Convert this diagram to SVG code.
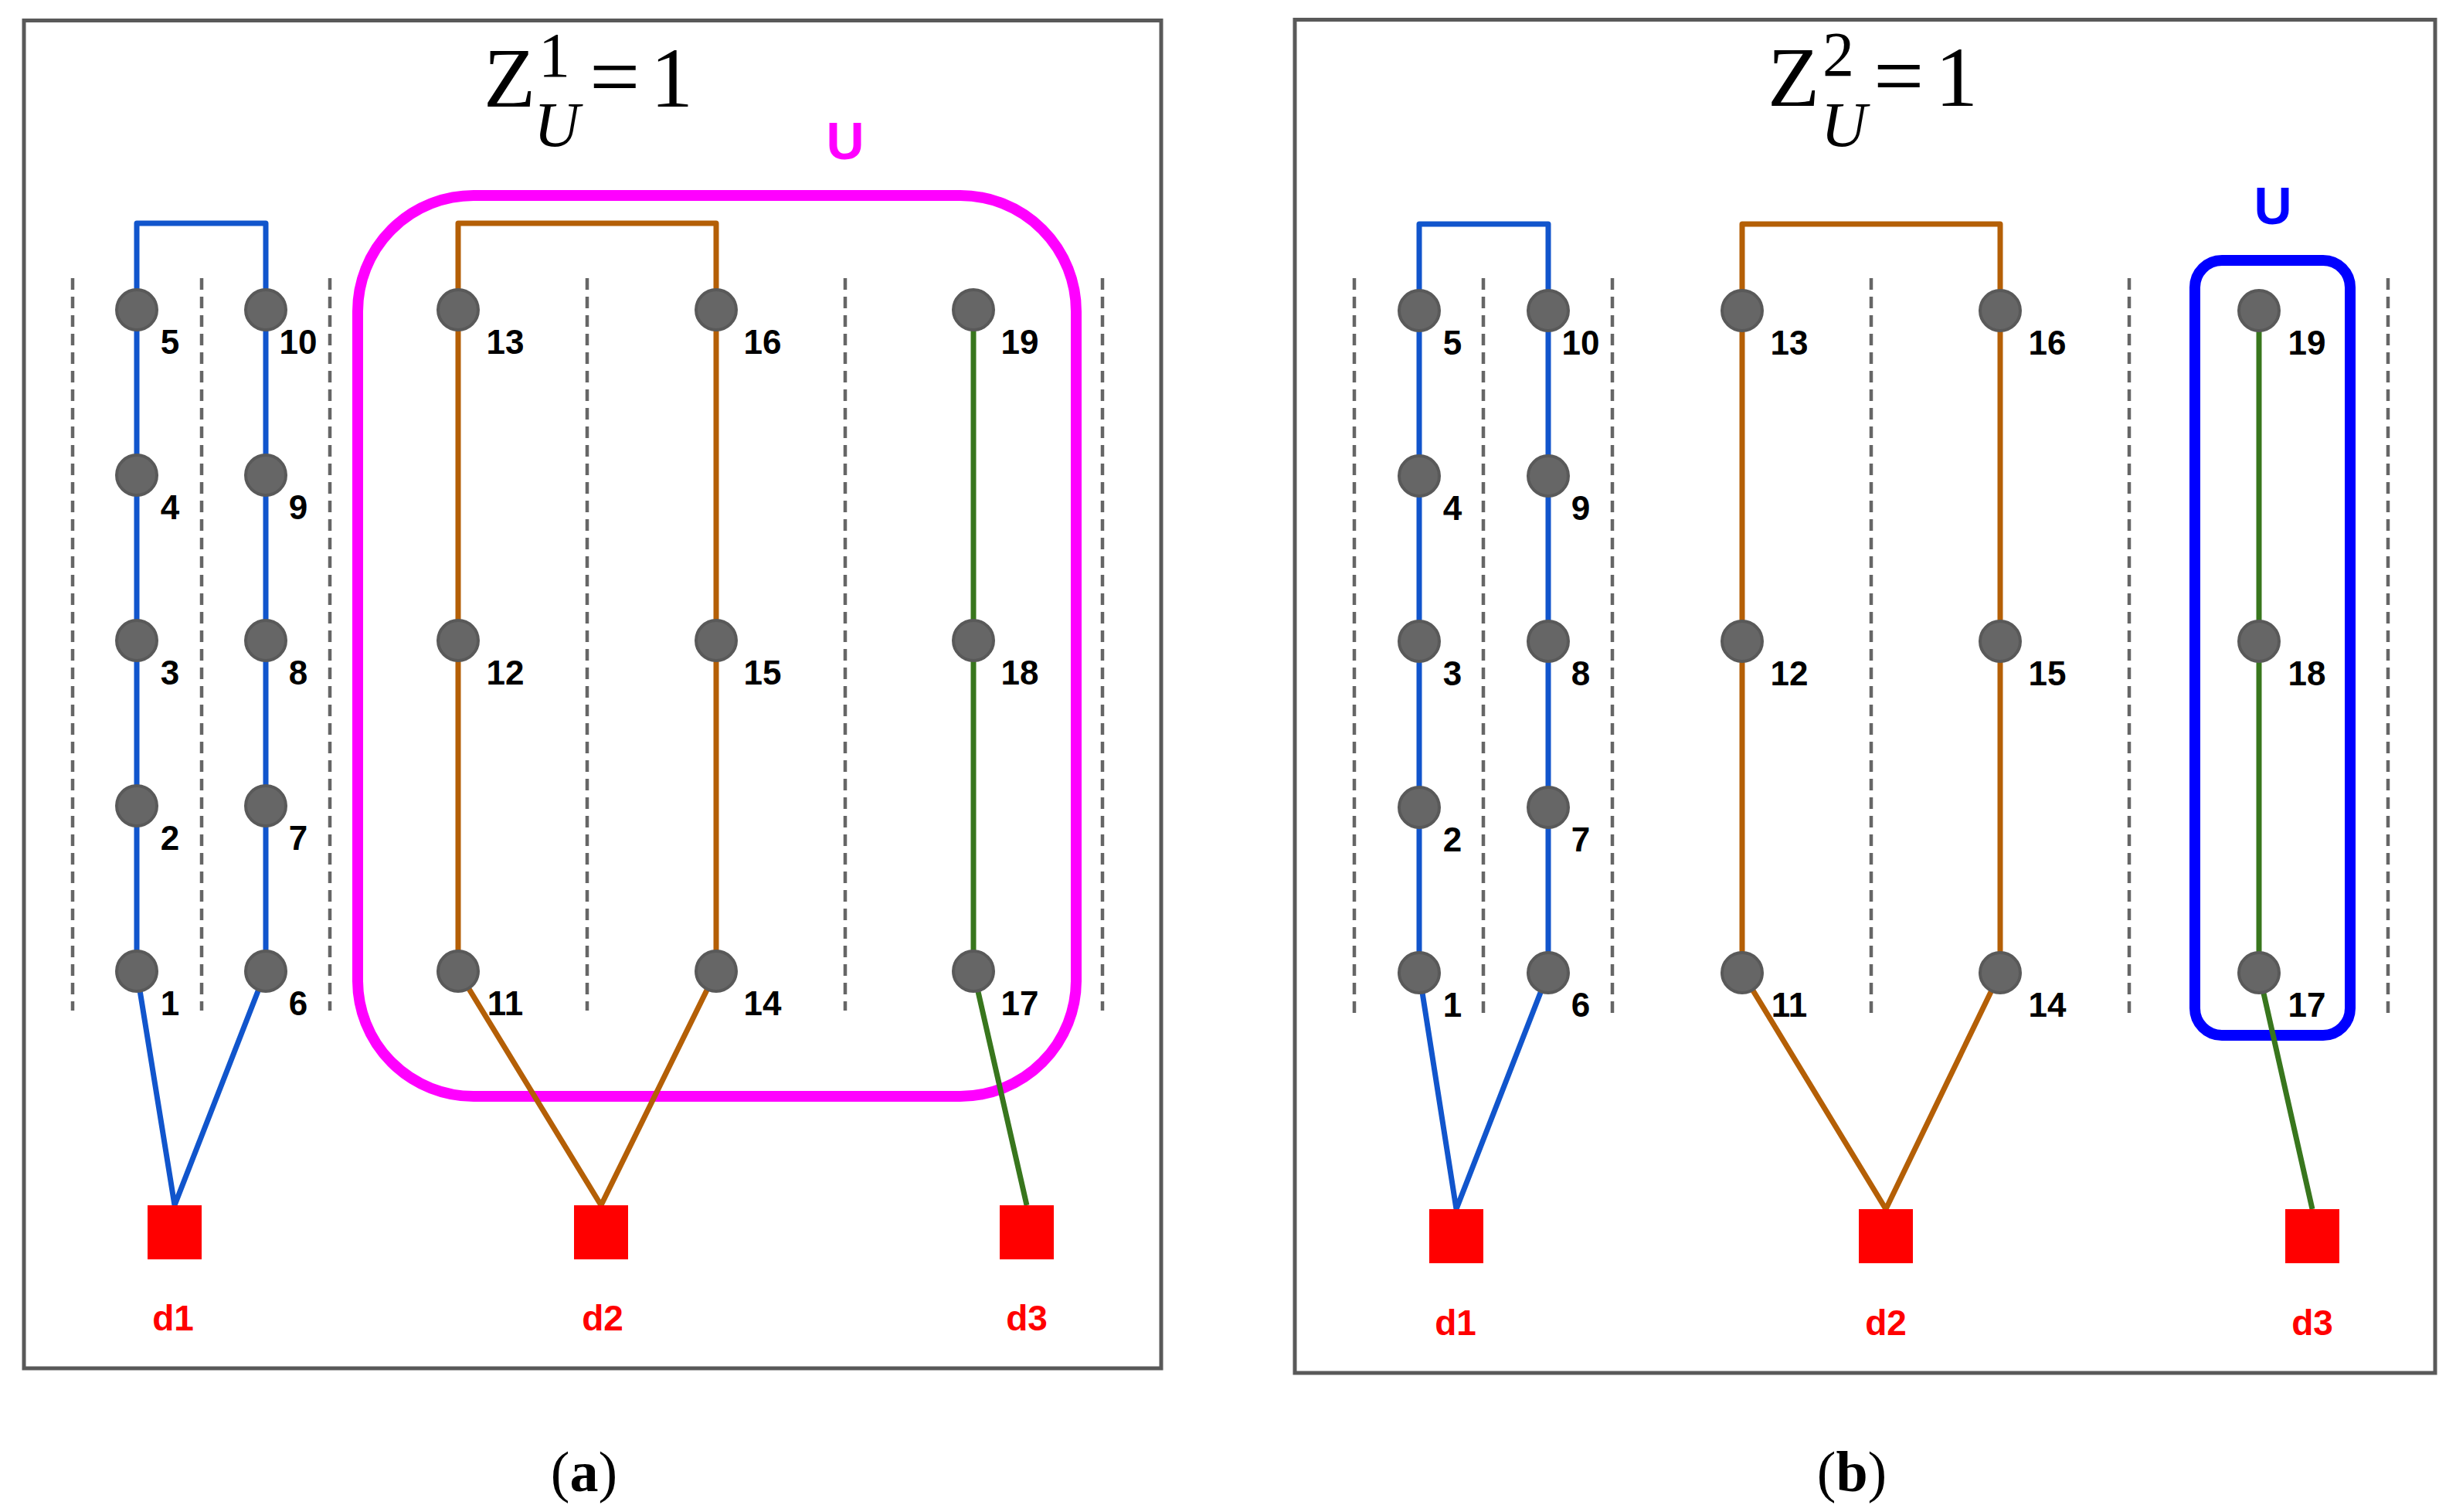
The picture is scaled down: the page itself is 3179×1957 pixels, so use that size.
<svg xmlns="http://www.w3.org/2000/svg" width="3179" height="1957" viewBox="0 0 3179 1957">
<style>
.frame{fill:none;stroke:#595959;stroke-width:5}
.grid{stroke:#666666;stroke-width:4.5;stroke-dasharray:15 9;fill:none}
.node{fill:#666666;stroke:#595959;stroke-width:4}
.lbl{font-family:"Liberation Sans",Arial,sans-serif;font-weight:bold;font-size:44px;fill:#000;text-anchor:middle}
.dl{font-family:"Liberation Sans",Arial,sans-serif;font-weight:bold;font-size:46px;fill:#ff0000;text-anchor:middle}
.dep{fill:#ff0000}
.blue{stroke:#1155cc;stroke-width:7;fill:none;stroke-linejoin:round}
.brown{stroke:#b45f06;stroke-width:7;fill:none;stroke-linejoin:round}
.green{stroke:#38761d;stroke-width:7;fill:none;stroke-linejoin:round}
.tm{font-family:"Liberation Serif","Times New Roman",serif;fill:#000;font-size:110px}
.sm{font-size:82px}
.cap{font-family:"Liberation Serif","Times New Roman",serif;font-size:74px;fill:#000;text-anchor:middle}
.ulbl{font-family:"Liberation Sans",Arial,sans-serif;font-weight:bold;font-size:68px;text-anchor:middle}
</style>
<rect width="3179" height="1957" fill="#ffffff"/>

<!-- Panel (a) -->
<g id="panel-a">
<rect class="frame" x="31" y="26.5" width="1472" height="1744.5"/>
<g id="title-a">
<text class="tm"><tspan x="626" y="138">Z</tspan><tspan class="sm" x="697" y="99">1</tspan><tspan class="sm" x="691" y="189" font-style="italic">U</tspan><tspan x="763" y="138" font-size="116">=</tspan><tspan x="842" y="138">1</tspan></text>
</g>
<g id="grid-a">
<line class="grid" x1="94" y1="360" x2="94" y2="1308"/>
<line class="grid" x1="261" y1="360" x2="261" y2="1308"/>
<line class="grid" x1="427" y1="360" x2="427" y2="1308"/>
<line class="grid" x1="760" y1="360" x2="760" y2="1308"/>
<line class="grid" x1="1094" y1="360" x2="1094" y2="1308"/>
<line class="grid" x1="1427" y1="360" x2="1427" y2="1308"/>
</g>
<g id="U-a">
<rect x="463" y="253" width="930" height="1166" rx="150" ry="150" fill="none" stroke="#ff00ff" stroke-width="14"/>
<text class="ulbl" x="1094" y="206" fill="#ff00ff">U</text>
</g>
<g id="connectors-a">
<path class="blue" d="M177,1257 V289 H344 V1257"/>
<path class="blue" d="M177,1257 L226,1560 L344,1257"/>
<path class="brown" d="M593,1257 V289 H927 V1257"/>
<path class="brown" d="M593,1257 L778,1560 L927,1257"/>
<path class="green" d="M1260,401 V1257 L1329,1560"/>
</g>
<g id="a-n1"><ellipse class="node" cx="177" cy="1257" rx="26" ry="26"/><text class="lbl" x="220" y="1314">1</text></g>
<g id="a-n2"><ellipse class="node" cx="177" cy="1043" rx="26" ry="26"/><text class="lbl" x="220" y="1100">2</text></g>
<g id="a-n3"><ellipse class="node" cx="177" cy="829" rx="26" ry="26"/><text class="lbl" x="220" y="886">3</text></g>
<g id="a-n4"><ellipse class="node" cx="177" cy="615" rx="26" ry="26"/><text class="lbl" x="220" y="672">4</text></g>
<g id="a-n5"><ellipse class="node" cx="177" cy="401" rx="26" ry="26"/><text class="lbl" x="220" y="458">5</text></g>
<g id="a-n6"><ellipse class="node" cx="344" cy="1257" rx="26" ry="26"/><text class="lbl" x="386" y="1314">6</text></g>
<g id="a-n7"><ellipse class="node" cx="344" cy="1043" rx="26" ry="26"/><text class="lbl" x="386" y="1100">7</text></g>
<g id="a-n8"><ellipse class="node" cx="344" cy="829" rx="26" ry="26"/><text class="lbl" x="386" y="886">8</text></g>
<g id="a-n9"><ellipse class="node" cx="344" cy="615" rx="26" ry="26"/><text class="lbl" x="386" y="672">9</text></g>
<g id="a-n10"><ellipse class="node" cx="344" cy="401" rx="26" ry="26"/><text class="lbl" x="386" y="458">10</text></g>
<g id="a-n11"><ellipse class="node" cx="593" cy="1257" rx="26" ry="26"/><text class="lbl" x="654" y="1314">11</text></g>
<g id="a-n12"><ellipse class="node" cx="593" cy="829" rx="26" ry="26"/><text class="lbl" x="654" y="886">12</text></g>
<g id="a-n13"><ellipse class="node" cx="593" cy="401" rx="26" ry="26"/><text class="lbl" x="654" y="458">13</text></g>
<g id="a-n14"><ellipse class="node" cx="927" cy="1257" rx="26" ry="26"/><text class="lbl" x="987" y="1314">14</text></g>
<g id="a-n15"><ellipse class="node" cx="927" cy="829" rx="26" ry="26"/><text class="lbl" x="987" y="886">15</text></g>
<g id="a-n16"><ellipse class="node" cx="927" cy="401" rx="26" ry="26"/><text class="lbl" x="987" y="458">16</text></g>
<g id="a-n17"><ellipse class="node" cx="1260" cy="1257" rx="26" ry="26"/><text class="lbl" x="1320" y="1314">17</text></g>
<g id="a-n18"><ellipse class="node" cx="1260" cy="829" rx="26" ry="26"/><text class="lbl" x="1320" y="886">18</text></g>
<g id="a-n19"><ellipse class="node" cx="1260" cy="401" rx="26" ry="26"/><text class="lbl" x="1320" y="458">19</text></g>
<g id="a-d1"><rect class="dep" x="191" y="1560" width="70" height="70"/><text class="dl" x="224" y="1722">d1</text></g>
<g id="a-d2"><rect class="dep" x="743" y="1560" width="70" height="70"/><text class="dl" x="780" y="1722">d2</text></g>
<g id="a-d3"><rect class="dep" x="1294" y="1560" width="70" height="70"/><text class="dl" x="1329" y="1722">d3</text></g>
<text class="cap" x="756" y="1930">(<tspan font-weight="bold">a</tspan>)</text>
</g>

<!-- Panel (b) -->
<g id="panel-b">
<rect class="frame" x="1676" y="25.5" width="1476" height="1751.5"/>
<g id="title-b">
<text class="tm"><tspan x="2288" y="137">Z</tspan><tspan class="sm" x="2359" y="98">2</tspan><tspan class="sm" x="2357" y="189" font-style="italic">U</tspan><tspan x="2425" y="137" font-size="116">=</tspan><tspan x="2505" y="137">1</tspan></text>
</g>
<g id="grid-b">
<line class="grid" x1="1753" y1="360" x2="1753" y2="1313"/>
<line class="grid" x1="1920" y1="360" x2="1920" y2="1313"/>
<line class="grid" x1="2087" y1="360" x2="2087" y2="1313"/>
<line class="grid" x1="2422" y1="360" x2="2422" y2="1313"/>
<line class="grid" x1="2756" y1="360" x2="2756" y2="1313"/>
<line class="grid" x1="3091" y1="360" x2="3091" y2="1313"/>
</g>
<g id="U-b">
<rect x="2841" y="337" width="201" height="1003" rx="35" ry="35" fill="none" stroke="#0000ff" stroke-width="14"/>
<text class="ulbl" x="2942" y="290" fill="#0000ff">U</text>
</g>
<g id="connectors-b">
<path class="blue" d="M1837,1259 V290 H2004 V1259"/>
<path class="blue" d="M1837,1259 L1885,1565 L2004,1259"/>
<path class="brown" d="M2255,1259 V290 H2589 V1259"/>
<path class="brown" d="M2255,1259 L2441,1565 L2589,1259"/>
<path class="green" d="M2924,402 V1259 L2993,1565"/>
</g>
<g id="b-n1"><ellipse class="node" cx="1837" cy="1259" rx="26" ry="26"/><text class="lbl" x="1880" y="1316">1</text></g>
<g id="b-n2"><ellipse class="node" cx="1837" cy="1045" rx="26" ry="26"/><text class="lbl" x="1880" y="1102">2</text></g>
<g id="b-n3"><ellipse class="node" cx="1837" cy="830" rx="26" ry="26"/><text class="lbl" x="1880" y="887">3</text></g>
<g id="b-n4"><ellipse class="node" cx="1837" cy="616" rx="26" ry="26"/><text class="lbl" x="1880" y="673">4</text></g>
<g id="b-n5"><ellipse class="node" cx="1837" cy="402" rx="26" ry="26"/><text class="lbl" x="1880" y="459">5</text></g>
<g id="b-n6"><ellipse class="node" cx="2004" cy="1259" rx="26" ry="26"/><text class="lbl" x="2046" y="1316">6</text></g>
<g id="b-n7"><ellipse class="node" cx="2004" cy="1045" rx="26" ry="26"/><text class="lbl" x="2046" y="1102">7</text></g>
<g id="b-n8"><ellipse class="node" cx="2004" cy="830" rx="26" ry="26"/><text class="lbl" x="2046" y="887">8</text></g>
<g id="b-n9"><ellipse class="node" cx="2004" cy="616" rx="26" ry="26"/><text class="lbl" x="2046" y="673">9</text></g>
<g id="b-n10"><ellipse class="node" cx="2004" cy="402" rx="26" ry="26"/><text class="lbl" x="2046" y="459">10</text></g>
<g id="b-n11"><ellipse class="node" cx="2255" cy="1259" rx="26" ry="26"/><text class="lbl" x="2316" y="1316">11</text></g>
<g id="b-n12"><ellipse class="node" cx="2255" cy="830" rx="26" ry="26"/><text class="lbl" x="2316" y="887">12</text></g>
<g id="b-n13"><ellipse class="node" cx="2255" cy="402" rx="26" ry="26"/><text class="lbl" x="2316" y="459">13</text></g>
<g id="b-n14"><ellipse class="node" cx="2589" cy="1259" rx="26" ry="26"/><text class="lbl" x="2650" y="1316">14</text></g>
<g id="b-n15"><ellipse class="node" cx="2589" cy="830" rx="26" ry="26"/><text class="lbl" x="2650" y="887">15</text></g>
<g id="b-n16"><ellipse class="node" cx="2589" cy="402" rx="26" ry="26"/><text class="lbl" x="2650" y="459">16</text></g>
<g id="b-n17"><ellipse class="node" cx="2924" cy="1259" rx="26" ry="26"/><text class="lbl" x="2986" y="1316">17</text></g>
<g id="b-n18"><ellipse class="node" cx="2924" cy="830" rx="26" ry="26"/><text class="lbl" x="2986" y="887">18</text></g>
<g id="b-n19"><ellipse class="node" cx="2924" cy="402" rx="26" ry="26"/><text class="lbl" x="2986" y="459">19</text></g>
<g id="b-d1"><rect class="dep" x="1850" y="1565" width="70" height="70"/><text class="dl" x="1884" y="1728">d1</text></g>
<g id="b-d2"><rect class="dep" x="2406" y="1565" width="70" height="70"/><text class="dl" x="2441" y="1728">d2</text></g>
<g id="b-d3"><rect class="dep" x="2958" y="1565" width="70" height="70"/><text class="dl" x="2993" y="1728">d3</text></g>
<text class="cap" x="2397" y="1930">(<tspan font-weight="bold">b</tspan>)</text>
</g>
</svg>
